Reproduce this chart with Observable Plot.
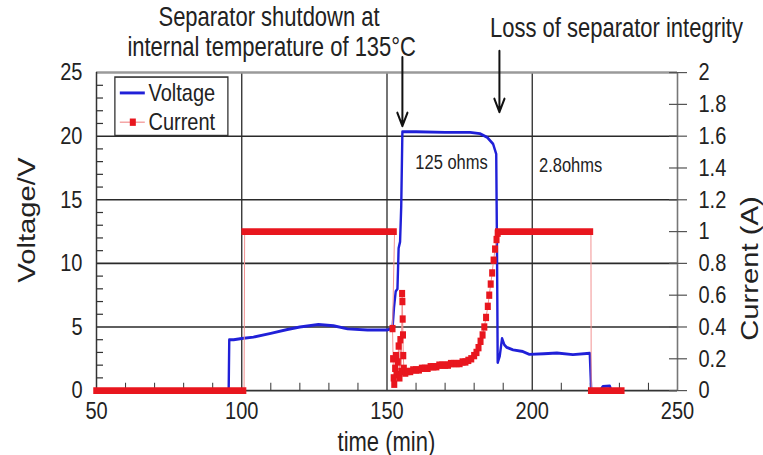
<!DOCTYPE html>
<html>
<head>
<meta charset="utf-8">
<script src="https://cdn.jsdelivr.net/npm/d3@7"></script>
<script src="https://cdn.jsdelivr.net/npm/@observablehq/plot@0.6"></script>
<style>
  body { margin: 0; background: #fff; }
</style>
</head>
<body>
<div id="chart"></div>
<script>
// ---------- tick labels / grid ----------
const timeTicks = [50, 100, 150, 200, 250];
const timeMinor = [60, 70, 80, 90, 110, 120, 130, 140, 160, 170, 180, 190, 210, 220, 230, 240];
const timeGrid = [100, 150, 200];
const voltTicks = [0, 5, 10, 15, 20, 25];
const voltMinor = [1, 2, 3, 4, 6, 7, 8, 9, 11, 12, 13, 14, 16, 17, 18, 19, 21, 22, 23, 24];
const voltGrid = [5, 10, 15, 20];
const currentTicks = [0, 0.2, 0.4, 0.6, 0.8, 1, 1.2, 1.4, 1.6, 1.8, 2];
const seriesNames = ["Voltage", "Current"];

// ---------- voltage readings [time (min), voltage (V)] ----------
const voltageReadings = [
  [50, 0], [95.5, 0], [95.7, 4.0], [97.2, 4.0], [100, 4.1], [104, 4.2], [110, 4.5],
  [115.7, 4.8], [120, 5.0], [126.4, 5.2], [131.6, 5.1], [136.4, 4.85], [143.3, 4.77],
  [150.2, 4.77], [151.9, 4.9], [152.4, 6.5], [153.0, 7.8], [153.6, 8.0], [154.0, 11.2],
  [154.5, 11.7], [154.9, 14.5], [155.3, 20.35], [160, 20.35], [170, 20.3], [178.6, 20.3],
  [182, 20.2], [184.5, 19.9], [186.5, 19.4], [187.6, 18.6], [187.9, 10], [188.1, 2.2],
  [188.8, 2.7], [189.6, 4.1], [190.4, 3.6], [191.2, 3.4], [193.4, 3.2], [196.8, 3.07],
  [199, 2.85], [204, 2.9], [208.5, 2.95], [214, 2.83], [219.8, 2.93], [220.3, 0],
  [223.5, 0.05], [224.3, 0.32], [226.7, 0.36], [227.2, 0], [229, 0]
];

// ---------- current: flat plateaus (A) ----------
const currentLevels = [
  { start: 50, end: 100.8, amps: 0 },
  { start: 101, end: 152.6, amps: 1.0 },
  { start: 188.3, end: 220.2, amps: 1.0 },
  { start: 220.3, end: 231, amps: 0 }
];

// ---------- current: transient readings [time (min), current (A)] ----------
const currentReadings = [
  [151.9, 0.39], [152.1, 0.20], [152.3, 0.08], [152.5, 0.04], [152.8, 0.14], [153.1, 0.22],
  [153.4, 0.10], [153.7, 0.18], [154.0, 0.28], [154.3, 0.08], [154.6, 0.32], [154.9, 0.12],
  [155.2, 0.61], [155.3, 0.56], [155.4, 0.45], [155.5, 0.35], [155.6, 0.22], [155.8, 0.14],
  [156.3, 0.11], [157, 0.12], [158, 0.12], [159, 0.13], [160, 0.13], [161, 0.13], [162, 0.14],
  [163, 0.14], [164, 0.14], [165, 0.15], [166, 0.15], [167, 0.15], [168, 0.16], [169, 0.16],
  [170, 0.16], [171, 0.16], [172, 0.17], [173, 0.17], [174, 0.17], [175, 0.17], [176, 0.18],
  [177, 0.18], [178, 0.19], [179, 0.20], [180, 0.22], [180.8, 0.24], [181.5, 0.27],
  [182.2, 0.31], [182.9, 0.35], [183.5, 0.40], [184.1, 0.46], [184.7, 0.53], [185.2, 0.60],
  [185.7, 0.67], [186.2, 0.74], [186.7, 0.82], [187.2, 0.89], [187.7, 0.95], [188.1, 0.99]
];

// ---------- build ----------
const AMP_TO_VOLT = voltTicks[voltTicks.length - 1] / currentTicks[currentTicks.length - 1];
const voltage = voltageReadings.map(([t, v]) => ({ t, v }));
const currentPts = currentReadings.map(([t, a]) => ({ t, v: a * AMP_TO_VOLT }));
const lv = currentLevels.map(d => [{ t: d.start, v: d.amps * AMP_TO_VOLT }, { t: d.end, v: d.amps * AMP_TO_VOLT }]);
const currentLine = [...lv[0], ...lv[1], ...currentPts, ...lv[2], ...lv[3]];

const BLUE = "#2020d8";
const RED = "#e8161e";
const PALE = "#f29292";
const FONT = "'Liberation Sans', Arial, Helvetica, sans-serif";

const W = 763, H_OUT = 455, H = 373; // drawn at H, stretched vertically to H_OUT

const svg = Plot.plot({
  width: W,
  height: H,
  marginTop: 59,
  marginBottom: 53.3,
  marginLeft: 96,
  marginRight: 86,
  x: { domain: [timeTicks[0], timeTicks[timeTicks.length - 1]], label: null },
  y: { domain: [voltTicks[0], voltTicks[voltTicks.length - 1]], label: null },
  style: `font-family: ${FONT}; font-size: 20px; color: #222; background: #fff;`,
  marks: [
    // grid
    Plot.ruleY(voltGrid, { stroke: "#2a2a2a", strokeWidth: 1.3 }),
    Plot.ruleX(timeGrid, { stroke: "#2a2a2a", strokeWidth: 1.3 }),
    // frame
    Plot.ruleY([voltTicks[voltTicks.length - 1]], { stroke: "#9a9a9a", strokeWidth: 2 }),
    Plot.ruleX([timeTicks[timeTicks.length - 1]], { stroke: "#777", strokeWidth: 1.6 }),
    Plot.ruleX([timeTicks[0]], { stroke: "#333", strokeWidth: 1.5 }),
    Plot.ruleY([voltTicks[0]], { stroke: "#333", strokeWidth: 1.5 }),
    // left axis
    Plot.axisY({ anchor: "left", ticks: voltTicks, tickSize: 0, tickPadding: 14, label: null, fontSize: 20, fill: "#222" }),
    Plot.axisY({ anchor: "left", ticks: voltMinor, tickSize: 7, dx: 7, tickFormat: () => "", label: null, stroke: "#333" }),
    // bottom axis
    Plot.axisX({ anchor: "bottom", ticks: timeTicks, tickSize: 0, tickPadding: 9, label: null, fontSize: 20, fill: "#222" }),
    Plot.axisX({ anchor: "bottom", ticks: timeMinor, tickSize: 6, dy: -6, tickFormat: () => "", label: null, stroke: "#333" }),
    // right axis (current)
    Plot.axisY({
      anchor: "right",
      ticks: currentTicks.map(a => a * AMP_TO_VOLT),
      tickFormat: v => String(+(v / AMP_TO_VOLT).toFixed(1)),
      tickSize: 18, dx: -9, tickPadding: 12, label: null, fontSize: 20, fill: "#222", stroke: "#555"
    }),
    // voltage
    Plot.line(voltage, { x: "t", y: "v", stroke: BLUE, strokeWidth: 2.4, strokeLinejoin: "round" }),
    // current
    Plot.line(currentLine, { x: "t", y: "v", stroke: PALE, strokeWidth: 1 }),
    Plot.ruleY(currentLevels, { y: d => d.amps * AMP_TO_VOLT, x1: "start", x2: "end", stroke: RED, strokeWidth: 5.5, strokeLinecap: "square" }),
    Plot.dot(currentPts, { x: "t", y: "v", symbol: "square", r: 3.4, fill: RED, stroke: "none" }),
    // legend
    Plot.rect([0], { x1: 56.5, x2: 95.4, y1: 20, y2: 24.6, fill: "white", stroke: "#333", strokeWidth: 1.3 }),
    Plot.ruleY([23.4], { x1: 58.2, x2: 66.8, stroke: BLUE, strokeWidth: 2.4 }),
    Plot.ruleY([21.1], { x1: 58.2, x2: 66.8, stroke: PALE, strokeWidth: 1 }),
    Plot.dot([0], { x: 62.5, y: 21.1, symbol: "square", r: 3.4, fill: RED }),
    Plot.text([seriesNames[0]], { x: 67.9, y: 23.4, text: d => d, textAnchor: "start", fontSize: 20, fill: "#222" }),
    Plot.text([seriesNames[1]], { x: 67.9, y: 21.1, text: d => d, textAnchor: "start", fontSize: 20, fill: "#222" }),
    // annotations
    Plot.text(["Separator shutdown at"], { x: 109.4, y: 29.35, text: d => d, fontSize: 22, fill: "#222" }),
    Plot.text(["internal temperature of 135°C"], { x: 110.3, y: 26.95, text: d => d, fontSize: 22, fill: "#222" }),
    Plot.text(["Loss of separator integrity"], { x: 229, y: 28.5, text: d => d, fontSize: 22, fill: "#222" }),
    Plot.arrow([0], { x1: 155.3, y1: 26.2, x2: 155.3, y2: 20.8, stroke: "#111", strokeWidth: 2, headLength: 9, headAngle: 50 }),
    Plot.arrow([0], { x1: 188.7, y1: 26.7, x2: 188.7, y2: 21.9, stroke: "#111", strokeWidth: 2, headLength: 9, headAngle: 50 }),
    Plot.text(["125 ohms"], { x: 172.2, y: 17.9, text: d => d, fontSize: 16.5, fill: "#222" }),
    Plot.text(["2.8ohms"], { x: 213.2, y: 17.7, text: d => d, fontSize: 16.5, fill: "#222" }),
    // axis titles
    Plot.text(["Voltage/V"], { x: 26.3, y: 13.4, text: d => d, rotate: -90, fontSize: 24, fill: "#222" }),
    Plot.text(["Current (A)"], { x: 275.1, y: 9.6, text: d => d, rotate: -90, fontSize: 24, fill: "#222" }),
    Plot.text(["time (min)"], { x: 149.8, y: -4.05, text: d => d, fontSize: 22, fill: "#222" })
  ]
});

// the reference is vertically stretched: reproduce by stretching the SVG
svg.setAttribute("height", H_OUT);
svg.setAttribute("preserveAspectRatio", "none");
svg.style.height = H_OUT + "px";
svg.style.width = W + "px";
svg.style.maxWidth = "none";
document.getElementById("chart").appendChild(svg);
</script>
</body>
</html>
